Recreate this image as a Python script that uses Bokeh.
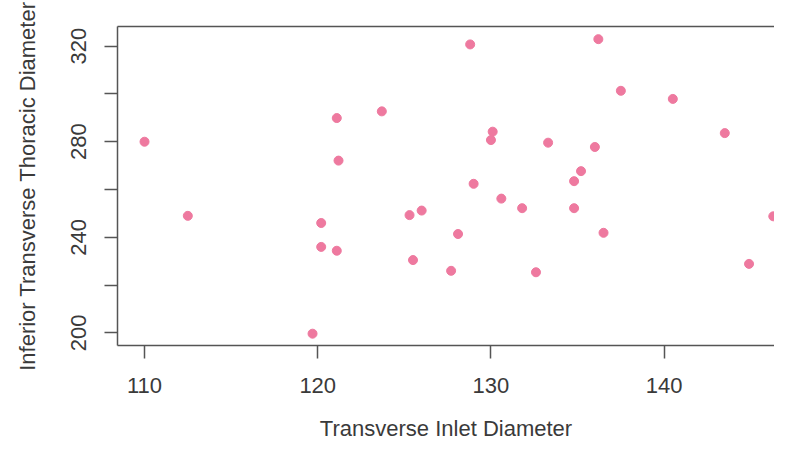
from bokeh.plotting import figure
from bokeh.models import Range1d, FixedTicker, LinearAxis
from bokeh.embed import file_html
from bokeh.resources import INLINE

# Data
inlet = [110.0, 112.5, 119.7, 120.2, 120.2, 121.1, 121.1, 121.2, 123.7, 125.3,
         125.5, 126.0, 127.7, 128.1, 128.8, 129.0, 130.0, 130.1, 130.6, 131.8,
         132.6, 133.3, 134.8, 134.8, 135.2, 136.0, 136.2, 136.5, 137.5, 140.5,
         143.5, 144.9, 146.3]
thoracic = [280.0, 249.0, 199.7, 246.0, 236.0, 234.4, 289.9, 272.1, 292.7, 249.3,
            230.5, 251.2, 226.0, 241.4, 320.7, 262.4, 280.7, 284.2, 256.2, 252.2,
            225.4, 279.6, 263.5, 252.2, 267.7, 277.8, 322.9, 241.9, 301.3, 297.9,
            283.6, 228.9, 248.8]
x_ticks = [110, 120, 130, 140]
y_ticks = [200, 220, 240, 260, 280, 300, 320]
y_labelled = [200, 240, 280, 320]
x_title = "Transverse Inlet Diameter"
y_title = "Inferior Transverse Thoracic Diameter"

FONT = "Liberation Sans"
TXT = "#3a3a3a"
AX = "#555555"

p = figure(width=774, height=443, output_backend="svg", toolbar_location=None,
           x_range=Range1d(108.44, 146.37), y_range=Range1d(194.76, 328.2),
           min_border_left=117, min_border_right=0, min_border_top=26,
           min_border_bottom=97, outline_line_color=None,
           background_fill_color="white", border_fill_color="white")
p.grid.visible = False

p.scatter(inlet, thoracic, size=9, fill_color="#EE799F", line_color="#EE799F")

for ax in (p.xaxis[0], p.yaxis[0]):
    ax.axis_line_color = AX
    ax.axis_line_width = 1.5
    ax.major_tick_line_color = AX
    ax.major_tick_line_width = 1.5
    ax.major_tick_in = 0
    ax.major_tick_out = 13
    ax.minor_tick_line_color = None
    ax.major_label_text_font = FONT
    ax.major_label_text_font_size = "22px"
    ax.major_label_text_color = TXT
    ax.axis_label_text_font = FONT
    ax.axis_label_text_font_size = "22px"
    ax.axis_label_text_font_style = "normal"
    ax.axis_label_text_color = TXT

p.xaxis[0].ticker = FixedTicker(ticks=x_ticks)
p.xaxis[0].axis_label = x_title
p.xaxis[0].major_label_standoff = 19
p.xaxis[0].axis_label_standoff = 20

p.yaxis[0].ticker = FixedTicker(ticks=y_ticks)
p.yaxis[0].major_label_overrides = {t: "" for t in y_ticks if t not in y_labelled}
p.yaxis[0].major_label_orientation = "vertical"
p.yaxis[0].axis_label = y_title
p.yaxis[0].major_label_standoff = 18
p.yaxis[0].axis_label_standoff = 29

top = LinearAxis(ticker=FixedTicker(ticks=[]), axis_line_color=AX, axis_line_width=1.5,
                 major_tick_line_color=None, minor_tick_line_color=None,
                 major_label_text_font_size="0px", major_label_standoff=0)
p.add_layout(top, "above")

open("out.html", "w").write(file_html(p, INLINE))
